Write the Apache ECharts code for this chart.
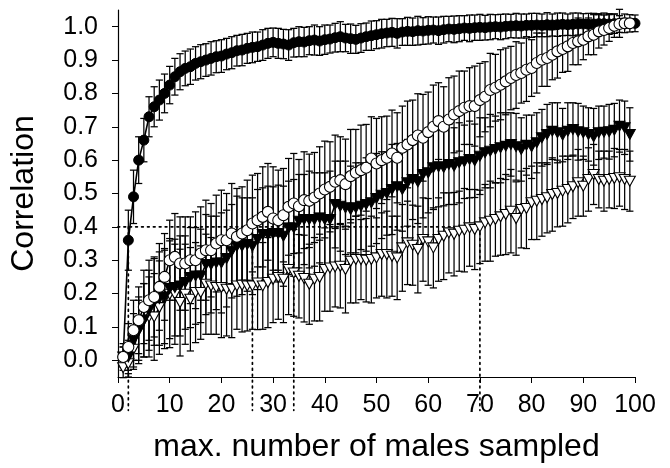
<!DOCTYPE html>
<html>
<head>
<meta charset="utf-8">
<script src="https://cdn.jsdelivr.net/npm/echarts@6/dist/echarts.min.js"></script>
<style>html,body{margin:0;padding:0;background:#fff;}#c{width:670px;height:468px;}</style>
</head>
<body>
<div id="c"></div>
<script>
// x values: maximum number of males sampled
const males = [1,2,3,4,5,6,7,8,9,10,11,12,13,14,15,16,17,18,19,20,21,22,23,24,25,26,27,28,29,30,31,32,33,34,35,36,37,38,39,40,41,42,43,44,45,46,47,48,49,50,51,52,53,54,55,56,57,58,59,60,61,62,63,64,65,66,67,68,69,70,71,72,73,74,75,76,77,78,79,80,81,82,83,84,85,86,87,88,89,90,91,92,93,94,95,96,97,98,99,100];

// Filled circles (x = 1..100)
const filledCircle = [0.01,0.36,0.49,0.60,0.66,0.73,0.76,0.78,0.80,0.825,
 0.85,0.865,0.875,0.88,0.89,0.895,0.90,0.905,0.91,0.912,
 0.918,0.922,0.928,0.93,0.935,0.938,0.94,0.945,0.95,0.953,
 0.95,0.948,0.945,0.952,0.955,0.954,0.958,0.96,0.957,0.961,
 0.963,0.967,0.97,0.966,0.964,0.962,0.966,0.97,0.973,0.976,
 0.979,0.981,0.983,0.98,0.984,0.986,0.985,0.988,0.987,0.989,
 0.99,0.988,0.991,0.993,0.992,0.994,0.996,0.995,0.997,0.998,
 0.997,0.999,1.0,0.999,1.001,1.002,1.003,1.002,1.004,1.004,
 1.005,1.004,1.006,1.005,1.006,1.007,1.006,1.007,1.008,1.008,
 1.007,1.008,1.009,1.009,1.008,1.009,1.01,1.01,1.01,1.01];
const filledCircleSD = [0.03,0.09,0.08,0.07,0.065,0.06,0.06,0.06,0.058,0.056,
 0.055,0.054,0.052,0.053,0.05,0.051,0.049,0.05,0.048,0.049,
 0.047,0.048,0.046,0.047,0.045,0.046,0.044,0.046,0.045,0.043,
 0.045,0.044,0.046,0.043,0.045,0.044,0.042,0.045,0.043,0.044,
 0.042,0.043,0.045,0.041,0.044,0.042,0.043,0.041,0.044,0.042,
 0.043,0.041,0.042,0.044,0.04,0.042,0.041,0.043,0.04,0.041,
 0.039,0.041,0.04,0.038,0.04,0.039,0.037,0.04,0.038,0.039,
 0.037,0.038,0.036,0.038,0.037,0.035,0.037,0.036,0.034,0.036,
 0.035,0.034,0.036,0.033,0.035,0.034,0.032,0.034,0.033,0.031,
 0.033,0.032,0.03,0.032,0.031,0.029,0.042,0.028,0.026,0.025];

// Open circles (x = 1..99)
const openCircle = [0.01,0.04,0.09,0.12,0.16,0.18,0.19,0.22,0.25,0.30,
 0.31,0.29,0.29,0.30,0.30,0.32,0.33,0.33,0.35,0.36,
 0.36,0.38,0.37,0.38,0.39,0.41,0.42,0.43,0.445,0.425,
 0.42,0.435,0.46,0.47,0.462,0.48,0.478,0.488,0.50,0.512,
 0.52,0.535,0.54,0.528,0.552,0.562,0.57,0.577,0.605,0.59,
 0.60,0.607,0.62,0.607,0.637,0.647,0.66,0.674,0.667,0.684,
 0.70,0.717,0.70,0.722,0.737,0.747,0.757,0.762,0.762,0.78,
 0.79,0.81,0.817,0.826,0.836,0.846,0.855,0.861,0.871,0.876,
 0.891,0.901,0.906,0.916,0.926,0.933,0.941,0.951,0.956,0.961,
 0.971,0.976,0.986,0.99,0.996,1.003,1.008,1.01,1.01];
const openCircleSD = [0.04,0.07,0.09,0.1,0.11,0.12,0.12,0.13,0.13,0.12,
 0.13,0.14,0.14,0.13,0.145,0.14,0.15,0.14,0.145,0.15,
 0.14,0.15,0.145,0.14,0.15,0.145,0.14,0.15,0.145,0.155,
 0.15,0.14,0.145,0.15,0.14,0.145,0.14,0.135,0.14,0.145,
 0.135,0.14,0.13,0.135,0.14,0.13,0.135,0.13,0.125,0.135,
 0.13,0.125,0.13,0.135,0.125,0.13,0.12,0.125,0.13,0.12,
 0.125,0.115,0.12,0.125,0.115,0.12,0.11,0.115,0.12,0.11,
 0.105,0.11,0.1,0.105,0.1,0.095,0.1,0.09,0.095,0.085,
 0.09,0.08,0.085,0.075,0.08,0.07,0.075,0.065,0.07,0.06,
 0.055,0.06,0.05,0.045,0.04,0.035,0.025,0.015,0.01];

// Filled triangles (x = 1..99)
const filledTriangle = [0.01,0.01,0.06,0.09,0.12,0.15,0.175,0.185,0.19,0.215,
 0.218,0.223,0.233,0.248,0.253,0.253,0.287,0.287,0.292,0.292,
 0.305,0.327,0.342,0.342,0.347,0.342,0.362,0.377,0.377,0.38,
 0.38,0.372,0.397,0.397,0.417,0.422,0.422,0.422,0.427,0.422,
 0.422,0.467,0.462,0.457,0.452,0.457,0.462,0.467,0.472,0.485,
 0.495,0.5,0.512,0.52,0.512,0.532,0.542,0.535,0.557,0.562,
 0.577,0.58,0.578,0.587,0.582,0.592,0.595,0.602,0.598,0.612,
 0.622,0.627,0.632,0.637,0.642,0.647,0.64,0.632,0.645,0.64,
 0.652,0.667,0.677,0.687,0.682,0.675,0.687,0.692,0.685,0.682,
 0.677,0.67,0.682,0.684,0.685,0.69,0.702,0.697,0.677];
const filledTriangleSD = [0.03,0.05,0.08,0.1,0.11,0.12,0.13,0.14,0.14,0.15,
 0.145,0.15,0.14,0.15,0.145,0.14,0.15,0.145,0.14,0.15,
 0.145,0.14,0.15,0.145,0.14,0.145,0.15,0.14,0.145,0.14,
 0.145,0.15,0.14,0.145,0.14,0.135,0.145,0.14,0.135,0.14,
 0.145,0.13,0.135,0.14,0.13,0.135,0.13,0.14,0.13,0.135,
 0.13,0.125,0.135,0.13,0.125,0.13,0.12,0.125,0.13,0.12,
 0.125,0.12,0.115,0.12,0.115,0.12,0.11,0.115,0.11,0.115,
 0.105,0.11,0.1,0.105,0.1,0.095,0.1,0.095,0.09,0.095,
 0.09,0.085,0.09,0.085,0.09,0.08,0.085,0.08,0.085,0.08,
 0.08,0.085,0.08,0.078,0.082,0.08,0.078,0.08,0.08];

// Open triangles (x = 1..99)
const openTriangle = [-0.022,-0.01,0.033,0.09,0.12,0.13,0.13,0.158,0.185,0.198,
 0.198,0.173,0.198,0.183,0.203,0.203,0.228,0.223,0.218,0.218,
 0.213,0.213,0.223,0.225,0.223,0.223,0.232,0.223,0.233,0.243,
 0.248,0.243,0.272,0.262,0.252,0.245,0.228,0.243,0.248,0.272,
 0.277,0.28,0.282,0.272,0.297,0.302,0.302,0.30,0.302,0.307,
 0.317,0.317,0.312,0.307,0.337,0.352,0.345,0.332,0.362,0.355,
 0.337,0.362,0.372,0.382,0.378,0.387,0.39,0.397,0.392,0.40,
 0.412,0.417,0.422,0.43,0.437,0.447,0.425,0.452,0.455,0.472,
 0.477,0.482,0.487,0.497,0.5,0.507,0.512,0.52,0.532,0.522,
 0.542,0.557,0.542,0.537,0.542,0.545,0.547,0.542,0.537];
const openTriangleSD = [0.03,0.04,0.06,0.09,0.11,0.12,0.13,0.14,0.15,0.16,
 0.15,0.16,0.15,0.155,0.15,0.14,0.15,0.145,0.14,0.15,
 0.14,0.145,0.13,0.14,0.135,0.13,0.14,0.13,0.135,0.13,
 0.125,0.13,0.135,0.13,0.125,0.13,0.12,0.125,0.13,0.125,
 0.13,0.12,0.125,0.13,0.125,0.13,0.12,0.125,0.13,0.12,
 0.125,0.13,0.12,0.125,0.13,0.125,0.12,0.13,0.125,0.13,
 0.12,0.125,0.13,0.12,0.125,0.12,0.125,0.115,0.12,0.11,
 0.115,0.12,0.11,0.115,0.12,0.125,0.11,0.115,0.12,0.11,
 0.115,0.11,0.105,0.11,0.1,0.105,0.1,0.095,0.1,0.09,
 0.095,0.09,0.085,0.09,0.085,0.09,0.085,0.09,0.09];

// Dotted reference lines: threshold correlation and where each series reaches it
const refLevel = 0.4;
const refX = [2, 26, 34, 70];
const refBottom = -0.15;

const xTicks = [0,10,20,30,40,50,60,70,80,90,100];
const yTicks = [0,0.1,0.2,0.3,0.4,0.5,0.6,0.7,0.8,0.9,1.0];

const FONT = 'Liberation Sans';

function pts(vals){ return vals.map((v,i)=>[males[i], v]); }
function bars(vals, sd){ return vals.map((v,i)=>[males[i], v - sd[i], v + sd[i]]); }

function errRender(params, api){
  const x = api.value(0);
  const pLo = api.coord([x, api.value(1)]);
  const pHi = api.coord([x, api.value(2)]);
  const w = 3.6;
  const style = {stroke:'#000', lineWidth:1.25, fill:null};
  return {type:'group', children:[
    {type:'line', shape:{x1:pLo[0], y1:pLo[1], x2:pHi[0], y2:pHi[1]}, style:style},
    {type:'line', shape:{x1:pLo[0]-w, y1:pLo[1], x2:pLo[0]+w, y2:pLo[1]}, style:style},
    {type:'line', shape:{x1:pHi[0]-w, y1:pHi[1], x2:pHi[0]+w, y2:pHi[1]}, style:style}
  ]};
}
function errSeries(vals, sd, z){
  return {type:'custom', data:bars(vals, sd), renderItem:errRender, encode:{x:0, y:[1,2]}, z:z, silent:true, clip:false, animation:false};
}
const dotStyle = {stroke:'#000', lineWidth:1.7, lineDash:[1.7,4.2], lineCap:'round', fill:null};

const chart = echarts.init(document.getElementById('c'), null, {renderer:'canvas'});
chart.setOption({
  animation:false,
  backgroundColor:'#fff',
  grid:{left:115, right:35, top:10, bottom:91, containLabel:false},
  xAxis:{
    type:'value', min:0, max:100, interval:10,
    name:'max. number of males sampled', nameLocation:'middle', nameGap:54,
    nameTextStyle:{fontFamily:FONT, fontSize:32, color:'#000'},
    axisLine:{onZero:false, lineStyle:{color:'#000', width:1.2}},
    axisTick:{show:true, length:6, inside:false, lineStyle:{color:'#000', width:1}},
    axisLabel:{fontFamily:FONT, fontSize:25, color:'#000', margin:16},
    splitLine:{show:false}
  },
  yAxis:{
    type:'value', min:-0.05, max:1.05,
    name:'Correlation', nameLocation:'middle', nameGap:78, nameRotate:90,
    nameTextStyle:{fontFamily:FONT, fontSize:32, color:'#000'},
    axisLine:{show:true, onZero:false, lineStyle:{color:'#000', width:1.2}},
    axisTick:{show:true, length:6, inside:false, customValues:yTicks, lineStyle:{color:'#000', width:1}},
    axisLabel:{fontFamily:FONT, fontSize:25, color:'#000', margin:20, customValues:yTicks, formatter:(v)=>v.toFixed(1)},
    splitLine:{show:false}
  },
  series:[
    {type:'custom', data:[[0, refX[refX.length-1], refLevel]], z:1, silent:true, clip:false,
     encode:{x:[0,1], y:2},
     renderItem:function(params, api){
       const a = api.coord([api.value(0), api.value(2)]);
       const b = api.coord([api.value(1), api.value(2)]);
       return {type:'line', shape:{x1:a[0], y1:a[1], x2:b[0], y2:b[1]}, style:dotStyle};
     }},
    {type:'custom', data:refX.map(x=>[x, refLevel, refBottom]), z:1, silent:true, clip:false,
     encode:{x:0, y:[1,2]},
     renderItem:function(params, api){
       const a = api.coord([api.value(0), api.value(1)]);
       const b = api.coord([api.value(0), api.value(2)]);
       return {type:'line', shape:{x1:a[0], y1:a[1], x2:b[0], y2:b[1]}, style:dotStyle};
     }},
    errSeries(openTriangle, openTriangleSD, 2),
    errSeries(filledTriangle, filledTriangleSD, 2),
    errSeries(openCircle, openCircleSD, 2),
    errSeries(filledCircle, filledCircleSD, 2),
    {type:'line', data:pts(openTriangle), z:3, symbol:'triangle', symbolRotate:180, symbolSize:[11,10], showAllSymbol:true,
     lineStyle:{color:'#000', width:1.6}, itemStyle:{color:'#fff', borderColor:'#000', borderWidth:1.1}},
    {type:'line', data:pts(filledTriangle), z:4, symbol:'triangle', symbolRotate:180, symbolSize:[11,10], showAllSymbol:true,
     lineStyle:{color:'#000', width:1.6}, itemStyle:{color:'#000', borderColor:'#000', borderWidth:1}},
    {type:'line', data:pts(filledCircle), z:5, symbol:'circle', symbolSize:10, showAllSymbol:true,
     lineStyle:{color:'#000', width:1.6}, itemStyle:{color:'#000', borderColor:'#000', borderWidth:1}},
    {type:'line', data:pts(openCircle), z:6, symbol:'circle', symbolSize:11, showAllSymbol:true,
     lineStyle:{color:'#000', width:1.6}, itemStyle:{color:'#fff', borderColor:'#000', borderWidth:1.1}}
  ]
});
</script>
</body>
</html>
